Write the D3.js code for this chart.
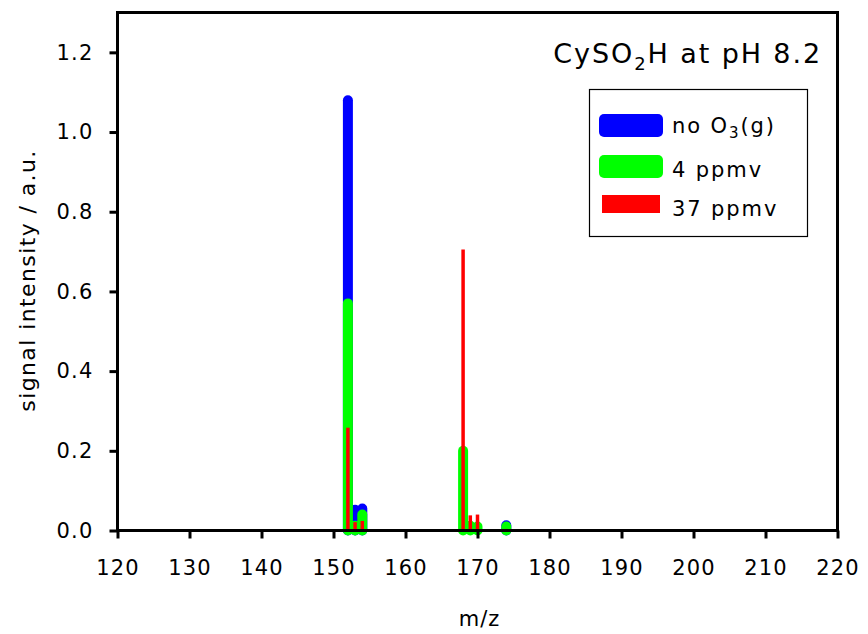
<!DOCTYPE html>
<html>
<head>
<meta charset="utf-8">
<script src="https://cdn.jsdelivr.net/npm/d3@7"></script>
<style>
  body { margin: 0; background: #fff; }
  text { font-family: "DejaVu Sans", sans-serif; fill: #000; }
</style>
</head>
<body>
<svg class="chart" width="868" height="634"></svg>
<script>
// m/z positions and intensities for each O3 exposure
const mzValues = [152, 153, 154, 168, 169, 170, 174, 190];
const noO3 = [1.08, 0.052, 0.055, 0, 0, 0, 0.013, 0];
const ppmv4 = [0.57, 0.012, 0.04, 0.2, 0.012, 0.01, 0.01, 0];
const ppmv37 = [0.258, 0.021, 0.024, 0.705, 0.038, 0.04, 0.004, 0.003];
const xTicks = [120, 130, 140, 150, 160, 170, 180, 190, 200, 210, 220];
const yTicks = [0, 0.2, 0.4, 0.6, 0.8, 1.0, 1.2];

const chart = d3.select('.chart');
const margin = { top: 12.5, right: 30.5, bottom: 103.5, left: 117.5 };
const width = +chart.attr('width');
const height = +chart.attr('height');
const innerWidth = width - margin.left - margin.right;
const innerHeight = height - margin.top - margin.bottom;

const xScale = d3.scaleLinear().domain([120, 220]).range([0, innerWidth]);
const yScale = d3.scaleLinear().domain([0, 1.3]).range([innerHeight, 0]);

const g = chart.append('g')
    .attr('transform', `translate(${margin.left},${margin.top})`);

const series = [
    { name: 'blue', values: noO3, color: '#0000ff', w: 10, cap: 'round' },
    { name: 'green', values: ppmv4, color: '#00ff00', w: 10, cap: 'round' },
    { name: 'red', values: ppmv37, color: '#ff0000', w: 3.5, cap: 'butt' }
];

series.forEach(s => {
    const pts = mzValues.map((m, i) => ({ m, v: s.values[i] })).filter(d => d.v > 0);
    g.append('g').selectAll('line').data(pts)
        .enter().append('line')
        .attr('x1', d => xScale(d.m))
        .attr('x2', d => xScale(d.m))
        .attr('y1', yScale(0))
        .attr('y2', d => yScale(d.v))
        .attr('stroke', s.color)
        .attr('stroke-width', s.w)
        .attr('stroke-linecap', s.cap);
});

// frame
g.append('rect')
    .attr('width', innerWidth).attr('height', innerHeight)
    .attr('fill', 'none').attr('stroke', '#000').attr('stroke-width', 3);

const xAxis = g.append('g')
    .attr('transform', `translate(0,${innerHeight})`)
    .call(d3.axisBottom(xScale).tickValues(xTicks).tickSize(8).tickPadding(22).tickFormat(d3.format('d')));
const yAxis = g.append('g')
    .call(d3.axisLeft(yScale).tickValues(yTicks).tickSize(8).tickPadding(16).tickFormat(d3.format('.1f')));

[xAxis, yAxis].forEach(a => {
    a.select('.domain').remove();
    a.selectAll('line').attr('stroke', '#000').attr('stroke-width', 3);
    a.selectAll('text').attr('font-size', 21).attr('letter-spacing', 1.2)
        .attr('font-family', '"DejaVu Sans", sans-serif').attr('fill', '#000');
});

chart.append('text')
    .attr('x', margin.left + innerWidth / 2 + 2).attr('y', 626)
    .attr('text-anchor', 'middle').attr('font-size', 21).attr('letter-spacing', 1)
    .text('m/z');

chart.append('text')
    .attr('transform', `translate(35,${margin.top + 268}) rotate(-90)`)
    .attr('text-anchor', 'middle').attr('font-size', 22).attr('letter-spacing', 1.4)
    .text('signal intensity / a.u.');

// title
const title = chart.append('text')
    .attr('x', 822).attr('y', 63).attr('text-anchor', 'end')
    .attr('font-size', 27).attr('letter-spacing', 1.9);
title.append('tspan').text('CySO');
title.append('tspan').attr('font-size', 18).attr('dy', 7).text('2');
title.append('tspan').attr('dy', -7).text('H at pH 8.2');

// legend
const legend = chart.append('g');
legend.append('rect')
    .attr('x', 589.5).attr('y', 89.5).attr('width', 218).attr('height', 147)
    .attr('fill', '#fff').attr('stroke', '#000').attr('stroke-width', 1.2);

const legendItems = [
    { label: ['no O', '3', '(g)'], color: '#0000ff', y: 114, h: 23, rx: 5, x: 599, w: 64 },
    { label: ['4 ppmv'], color: '#00ff00', y: 155, h: 23, rx: 5, x: 599, w: 64 },
    { label: ['37 ppmv'], color: '#ff0000', y: 195, h: 18, rx: 0, x: 602, w: 58 }
];
legendItems.forEach((d, i) => {
    legend.append('rect')
        .attr('x', d.x).attr('y', d.y).attr('width', d.w).attr('height', d.h)
        .attr('rx', d.rx).attr('fill', d.color);
    const t = legend.append('text')
        .attr('x', 672).attr('y', [133, 177, 216][i])
        .attr('font-size', 21).attr('letter-spacing', 1.9);
    t.append('tspan').text(d.label[0]);
    if (d.label.length > 1) {
        t.append('tspan').attr('font-size', 15).attr('dy', 5).text(d.label[1]);
        t.append('tspan').attr('dy', -5).text(d.label[2]);
    }
});
</script>
</body>
</html>
